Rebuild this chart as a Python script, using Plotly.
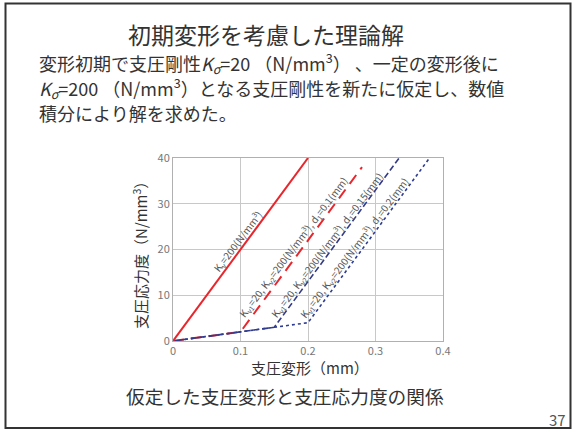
import plotly.graph_objects as go

# ---- data ----
x_rigid = [0.0, 0.2]
y_rigid = [0.0, 40.0]

x_d01 = [0.0, 0.1, 0.28]
y_d01 = [0.0, 2.0, 38.0]

x_d015 = [0.0, 0.15, 0.335]
y_d015 = [0.0, 3.0, 40.0]

x_d02 = [0.0, 0.2, 0.38]
y_d02 = [0.0, 4.0, 40.0]

x_ticks = [0, 0.1, 0.2, 0.3, 0.4]
x_tick_labels = ["0", "0.1", "0.2", "0.3", "0.4"]
y_ticks = [0, 10, 20, 30, 40]

JP = "Noto Sans CJK JP"
RED = "#e8262c"
NAVY = "#343b86"
NAVY2 = "#2e3c93"

fig = go.Figure()
fig.add_trace(go.Scatter(x=x_d01, y=y_d01, mode="lines",
                         line=dict(color=RED, width=2, dash="11px,7px")))
fig.add_trace(go.Scatter(x=x_d015, y=y_d015, mode="lines",
                         line=dict(color=NAVY, width=1.6, dash="6px,3px")))
fig.add_trace(go.Scatter(x=x_d02, y=y_d02, mode="lines",
                         line=dict(color=NAVY2, width=1.6, dash="dot")))
fig.add_trace(go.Scatter(x=x_rigid, y=y_rigid, mode="lines",
                         line=dict(color=RED, width=2)))

L, R, T, B = 173, 129, 158, 90
W, H = 572, 431
PW, PH = W - L - R, H - T - B

def px(xp):
    return (xp - L) / PW

def py(yp):
    return 1 - (yp - T) / PH

fig.update_layout(
    width=W, height=H,
    margin=dict(l=L, r=R, t=T, b=B),
    paper_bgcolor="white", plot_bgcolor="white",
    showlegend=False,
    font=dict(family=JP, color="#333333"),
    xaxis=dict(range=[0, 0.4], tickvals=x_ticks, ticktext=x_tick_labels,
               showgrid=True, gridcolor="#c8c8c8", gridwidth=1,
               zeroline=False, showline=True, linecolor="#b0b0b0", mirror=True,
               ticks="", tickfont=dict(size=11, color="#777777", family=JP)),
    yaxis=dict(range=[0, 40], tickvals=y_ticks,
               showgrid=True, gridcolor="#c8c8c8", gridwidth=1,
               zeroline=False, showline=True, linecolor="#b0b0b0", mirror=True,
               ticks="", tickfont=dict(size=11, color="#777777", family=JP)),
)

ann = []
def text(x, y, s, size, color="#333333", xanchor="center", angle=0, xref="paper", yref="paper"):
    ann.append(dict(x=x, y=y, xref=xref, yref=yref, text=s, showarrow=False,
                    xanchor=xanchor, yanchor="middle", textangle=angle,
                    font=dict(size=size, color=color, family=JP)))

text(px(266), py(34), "初期変形を考慮した理論解", 23)
text(px(37), py(63), "変形初期で支圧剛性<i>K<sub>σ</sub></i>=20 （N/mm<sup>3</sup>） 、一定の変形後に", 18, xanchor="left")
text(px(37), py(88), "<i>K<sub>σ</sub></i>=200 （N/mm<sup>3</sup>）となる支圧剛性を新たに仮定し、数値", 18, xanchor="left")
text(px(37), py(113), "積分により解を求めた。", 18, xanchor="left")
text(px(285), py(395), "仮定した支圧変形と支圧応力度の関係", 18.7)
text(px(557), py(419), "37", 15, color="#555555")
text(px(310), py(367), "支圧変形（mm）", 15)
text(px(140), py(252), "支圧応力度（N/mm<sup>3</sup>）", 15, angle=-90)

ang = -53
LC = "#555555"
text(0.096, 21.9, "K<sub>v</sub>=200(N/mm<sup>3</sup>)", 10, LC, angle=ang, xref="x", yref="y")
text(0.178, 20.6, "K<sub>v1</sub>=20, K<sub>v2</sub>=200(N/mm<sup>3</sup>), d<sub>1</sub>=0.1(mm)", 10, LC, angle=ang, xref="x", yref="y")
text(0.228, 21.0, "K<sub>v1</sub>=20, K<sub>v2</sub>=200(N/mm<sup>3</sup>), d<sub>1</sub>=0.15(mm)", 10, LC, angle=ang, xref="x", yref="y")
text(0.268, 20.4, "K<sub>v1</sub>=20, K<sub>v2</sub>=200(N/mm<sup>3</sup>), d<sub>1</sub>=0.2(mm)", 10, LC, angle=ang, xref="x", yref="y")
fig.update_layout(annotations=ann)

# slide frame
fig.add_shape(type="rect", xref="paper", yref="paper",
              x0=px(5.5), x1=px(570.5), y0=py(428), y1=py(3.5),
              line=dict(color="#333333", width=2), layer="below")

fig.write_html("out.html", config={"displayModeBar": False},
               post_script="document.body.style.margin='0';document.body.style.padding='0';")
